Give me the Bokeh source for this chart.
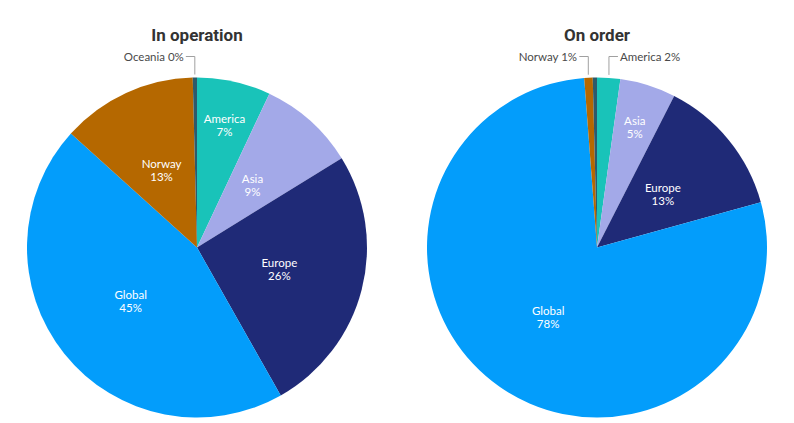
import math
from bokeh.plotting import figure
from bokeh.models import Range1d, ColumnDataSource
from bokeh.core.properties import value
from bokeh.embed import file_html
from bokeh.resources import INLINE

# ---- data ----
categories = ["America", "Asia", "Europe", "Global", "Norway", "Oceania"]
in_operation = [7.0, 9.2, 25.6, 44.9, 12.9, 0.4]
on_order = [2.2, 5.3, 13.2, 78.1, 0.8, 0.4]
titles = ["In operation", "On order"]
colors = ["#19c3b9", "#a3a9e8", "#1f2a77", "#039dfb", "#b56800", "#2e5a6b"]

# label placement (style): "in" inside, "out" outside with connector, "none" hidden
label_modes = [
    ["in", "in", "in", "in", "in", "out"],
    ["out", "in", "in", "in", "out", "none"],
]
label_dist = [
    [0.74, 0.49, 0.5, 0.5, 0.5, 0.5],
    [0.5, 0.74, 0.5, 0.5, 0.5, 0.5],
]

W, H = 794, 423
p = figure(width=W, height=H, output_backend="svg", toolbar_location=None,
           x_range=Range1d(0, W), y_range=Range1d(0, H),
           min_border=0, outline_line_color=None)
p.axis.visible = False
p.grid.visible = False
p.background_fill_color = "white"
p.border_fill_color = "white"

centers = [(196.5, 176.0), (596.5, 176.0)]
R = 170.0
label_y_out = 367.0
title_y = 389.0

for k, vals in enumerate([in_operation, on_order]):
    cx, cy = centers[k]
    total = sum(vals)
    fr = [v / total for v in vals]
    starts, ends = [], []
    c = 0.0
    mids = []
    for f in fr:
        c0, c1 = c, c + f
        starts.append(math.pi / 2 - 2 * math.pi * c1)
        ends.append(math.pi / 2 - 2 * math.pi * c0)
        mids.append((c0 + c1) / 2)
        c = c1
    src = ColumnDataSource(dict(start=starts, end=ends, color=colors))
    p.wedge(x=cx, y=cy, radius=R, start_angle="start", end_angle="end",
            fill_color="color", line_color=None, source=src)

    in_x, in_y, in_t = [], [], []
    out_x, out_y, out_t, out_align = [], [], [], []
    for i, cat in enumerate(categories):
        pct = "%d%%" % round(fr[i] * 100)
        a = 2 * math.pi * mids[i]
        mode = label_modes[k][i]
        if mode == "in":
            d = label_dist[k][i] * R
            in_x.append(cx + d * math.sin(a))
            in_y.append(cy + d * math.cos(a))
            in_t.append(cat + "\n" + pct)
        elif mode == "out":
            sx = cx + (R + 3) * math.sin(a)
            sy = cy + (R + 3) * math.cos(a)
            side = 1 if math.sin(a) >= 0 else -1
            ex = sx + side * 9
            p.line([sx, sx, ex], [sy, label_y_out, label_y_out],
                   line_color="#a0a0a0", line_width=1)
            out_x.append(ex + side * 2)
            out_y.append(label_y_out)
            out_t.append(cat + " " + pct)
            out_align.append("left" if side > 0 else "right")
    p.text(x=in_x, y=in_y, text=in_t, text_align="center", text_baseline="middle",
           text_color="white", text_font=value("Lato"), text_font_size="11.5px",
           text_line_height=1.0)
    if out_x:
        p.text(x=out_x, y=out_y, text=out_t, text_align=out_align,
               text_baseline="middle", text_color="#4a4a4a",
               text_font=value("Lato"), text_font_size="11.5px")
    p.text(x=[cx], y=[title_y], text=[titles[k]], text_align="center",
           text_baseline="middle", text_color="#333333",
           text_font=value("Roboto"), text_font_style="bold", text_font_size="17px")

open("out.html", "w").write(file_html(p, INLINE))
